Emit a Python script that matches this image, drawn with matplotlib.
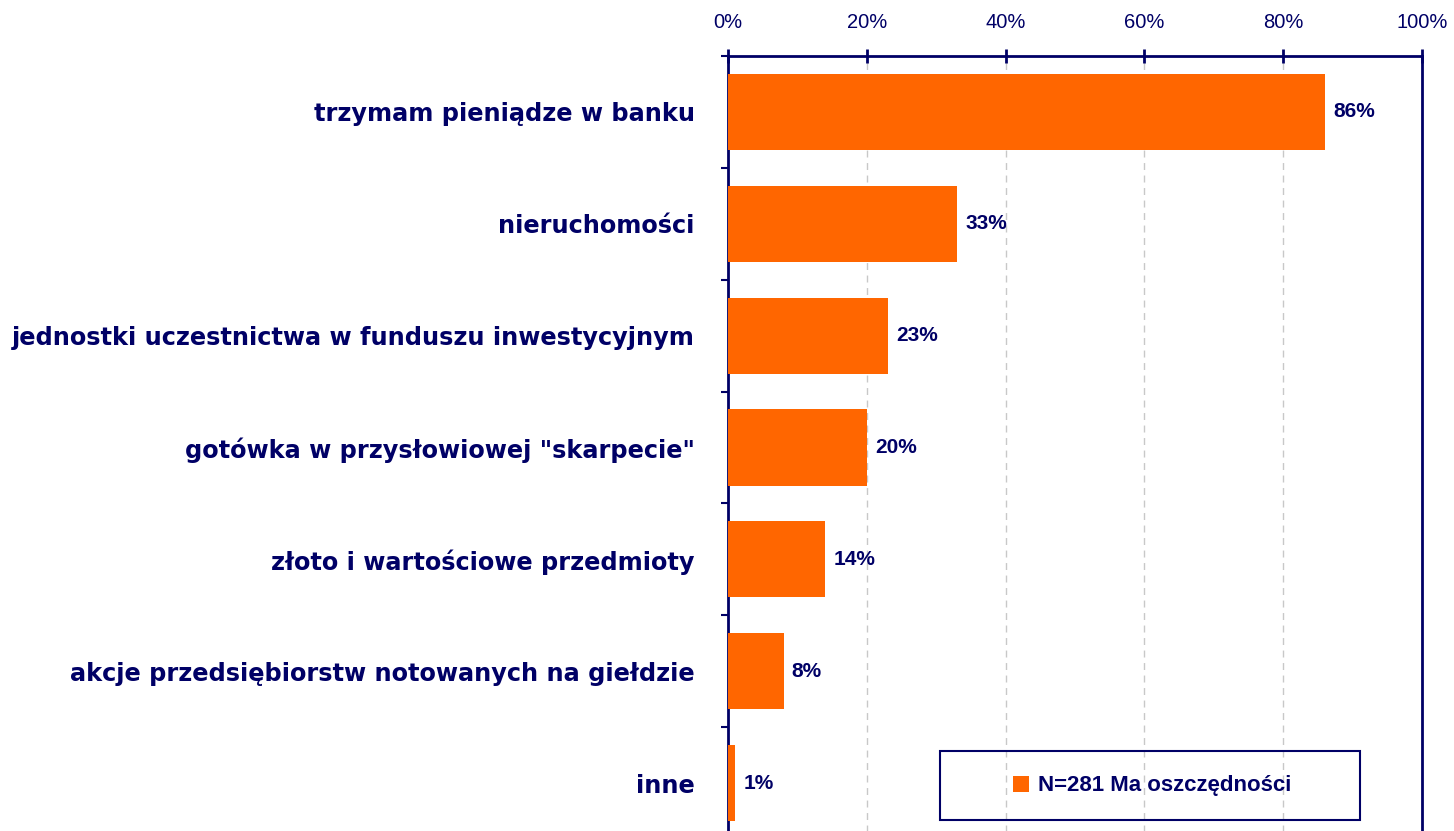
import numpy as np
import matplotlib.pyplot as plt
from matplotlib.ticker import FuncFormatter
from matplotlib.patches import Rectangle

# Dane
categories = ['trzymam pieniądze w banku', 'nieruchomości',
              'jednostki uczestnictwa w funduszu inwestycyjnym',
              'gotówka w przysłowiowej "skarpecie"',
              'złoto i wartościowe przedmioty',
              'akcje przedsiębiorstw notowanych na giełdzie', 'inne']
values = [86, 33, 23, 20, 14, 8, 1]
series_name = 'N=281 Ma oszczędności'

navy = '#000066'
orange = '#FF6600'

fig = plt.figure(figsize=(14.54, 8.31), dpi=100)
ax = fig.add_axes([728 / 1454, 1 - 839 / 831, 694 / 1454, 783 / 831])

y = np.arange(len(categories))
ax.barh(y, values, height=0.68, color=orange, label=series_name, zorder=3)
ax.set_ylim(len(categories) - 0.5, -0.5)
ax.set_xlim(0, 100)

# Podpisy wartości
for yi, v in zip(y, values):
    ax.text(v + 1.2, yi, f'{v}%', va='center', ha='left', fontsize=15,
            fontweight='bold', color=navy, family='Liberation Sans')

# Oś X na górze
ax.xaxis.tick_top()
ax.set_xticks(np.arange(0, 101, 20))
ax.xaxis.set_major_formatter(FuncFormatter(lambda v, p: f'{v:.0f}%'))
ax.tick_params(axis='x', direction='inout', length=10, width=2, colors=navy,
               labelsize=14.5, pad=12)
for lbl in ax.get_xticklabels():
    lbl.set_family('Liberation Sans')

ax.grid(axis='x', color='#c8c8c8', linestyle=(0, (5, 4)), linewidth=1, zorder=0)

# Oś Y - kategorie
ax.set_yticks(y)
ax.set_yticklabels(categories, fontsize=17.3, fontweight='bold', color=navy,
                   family='DejaVu Sans')
ax.tick_params(axis='y', length=0, pad=24)
ax.set_yticks(np.arange(-0.5, len(categories), 1), minor=True)
ax.tick_params(axis='y', which='minor', length=5, width=1.5, color=navy,
               direction='out')

for s in ['top', 'left', 'right']:
    ax.spines[s].set_color(navy)
    ax.spines[s].set_linewidth(2)
ax.spines['bottom'].set_visible(False)

# Legenda w ramce
fig.patches.append(Rectangle((940 / 1454, 1 - 820 / 831), 420 / 1454, 69 / 831,
                             transform=fig.transFigure, fill=False,
                             edgecolor=navy, linewidth=1.5, zorder=5))
leg = fig.legend(loc='center', bbox_to_anchor=(1152 / 1454, 1 - 786 / 831),
                 frameon=False, handlelength=0.7, handleheight=0.7,
                 handletextpad=0.4,
                 prop={'family': 'Liberation Sans', 'weight': 'bold', 'size': 16})
for t in leg.get_texts():
    t.set_color(navy)

fig.savefig('out.png', dpi=100)
